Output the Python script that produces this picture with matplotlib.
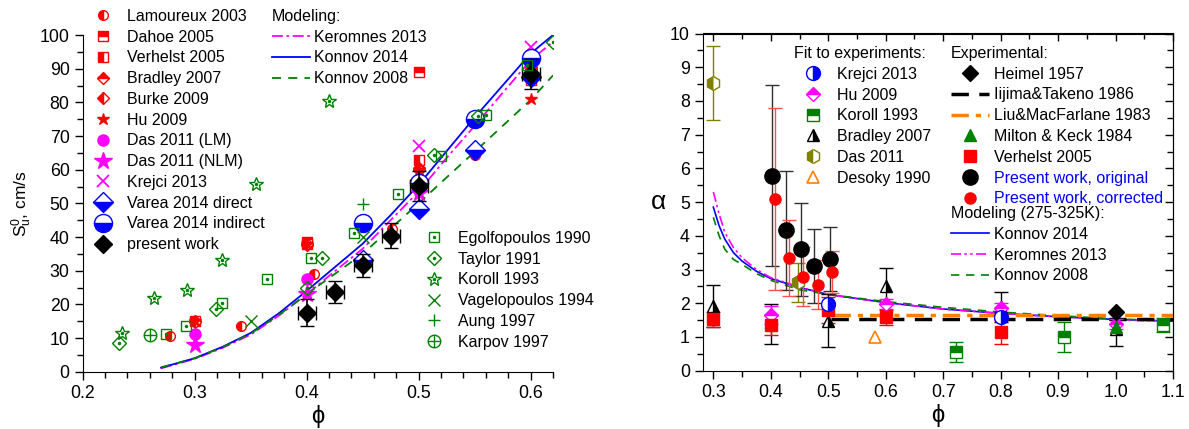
import matplotlib
matplotlib.use("Agg")
import matplotlib.pyplot as plt
from matplotlib.ticker import MultipleLocator

plt.rcParams['font.family'] = ['Liberation Sans', 'DejaVu Sans']
plt.rcParams['mathtext.default'] = 'regular'
FS = 11.5
TFS = 12.8

# ---------------- left panel data: burning velocity ----------------
lam_x = [0.278, 0.341, 0.407, 0.476, 0.55]
lam_y = [10.7, 13.7, 29.0, 42.3, 64.5]
dahoe_x = [0.4, 0.5, 0.6]
dahoe_y = [38.5, 89.0, 86.5]
verh_x = [0.3, 0.4, 0.5, 0.6]
verh_y = [15.2, 38.0, 62.9, 88.0]
brad_x = [0.3, 0.4, 0.5, 0.6]
brad_y = [15.0, 37.5, 60.5, 90.5]
burke_x = [0.3, 0.4, 0.5, 0.6]
burke_y = [14.8, 38.0, 60.0, 90.0]
hu_x = [0.3, 0.4, 0.5, 0.6]
hu_y = [15.0, 38.0, 60.0, 81.0]
dasLM_x = [0.3, 0.4]
dasLM_y = [11.3, 27.5]
dasNLM_x = [0.3, 0.4, 0.5]
dasNLM_y = [7.9, 23.0, 53.0]
krej_x = [0.5, 0.6]
krej_y = [67.1, 96.5]
vdir_x = [0.45, 0.5, 0.55, 0.6]
vdir_y = [33.2, 48.2, 65.8, 87.6]
vind_x = [0.45, 0.5, 0.55, 0.6]
vind_y = [44.1, 56.1, 75.2, 93.1]
pw_x = [0.4, 0.425, 0.45, 0.475, 0.5, 0.6]
pw_y = [17.5, 23.6, 31.6, 40.4, 55.2, 88.5]
pw_yerr = [4.0, 3.3, 3.4, 3.7, 4.5, 4.5]
pw_xerr = [0.008, 0.008, 0.008, 0.008, 0.008, 0.008]

egol_x = [0.274, 0.292, 0.324, 0.365, 0.404, 0.442, 0.482, 0.52, 0.56, 0.597]
egol_y = [11.2, 13.7, 20.5, 27.4, 33.9, 41.3, 52.7, 64.2, 76.2, 91.1]
tay_x = [0.232, 0.319, 0.40, 0.414, 0.514, 0.553, 0.62]
tay_y = [8.4, 18.7, 25.0, 33.9, 64.4, 76.0, 98.0]
kor_x = [0.235, 0.264, 0.293, 0.324, 0.355, 0.42]
kor_y = [11.4, 22.0, 24.4, 33.1, 55.7, 80.4]
vag_x = [0.35, 0.45]
vag_y = [15.1, 39.9]
aung_x = [0.45]
aung_y = [49.8]
karp_x = [0.26]
karp_y = [10.9]

mod_x = [0.27, 0.285, 0.3, 0.325, 0.35, 0.375, 0.4, 0.425, 0.45, 0.475, 0.5, 0.525, 0.55, 0.575, 0.6, 0.62]
kon14_y = [1.2, 2.6, 4.0, 7.4, 11.5, 17.3, 24.0, 31.0, 38.0, 46.5, 55.5, 65.5, 75.5, 85.0, 94.5, 100.0]
ker13_y = [1.0, 2.4, 3.8, 7.1, 11.0, 16.6, 23.0, 29.8, 36.5, 45.0, 53.5, 63.5, 73.0, 82.8, 92.5, 98.0]
kon08_y = [1.3, 2.6, 4.0, 7.3, 11.3, 16.8, 23.0, 29.0, 35.0, 42.5, 50.0, 57.7, 65.3, 73.0, 80.7, 88.0]

# ---------------- right panel data: alpha ----------------
fk_x = [0.5, 0.8]
fk_y = [1.97, 1.58]
fhu_x = [0.4, 0.6, 0.8, 1.0]
fhu_y = [1.65, 1.97, 1.87, 1.38]
fhu_err = [0.27, 0.15, 0.15, 0.15]
fkor_x = [0.723, 0.91, 1.082]
fkor_y = [0.56, 1.0, 1.35]
fkor_err = [0.3, 0.45, 0.2]
fbr_x = [0.3, 0.4, 0.5, 0.6, 0.8, 1.0]
fbr_y = [1.92, 1.38, 1.48, 2.51, 1.89, 1.25]
fbr_err = [0.62, 0.6, 0.78, 0.53, 0.45, 0.52]
fdas_x = [0.3, 0.447]
fdas_y = [8.52, 2.62]
fdas_err = [1.1, 0.58]
fdes_x = [0.581]
fdes_y = [1.0]

heim_x = [1.0]
heim_y = [1.75]
iij_x = [0.505, 1.1]
iij_y = [1.53, 1.53]
liu_x = [0.508, 1.1]
liu_y = [1.64, 1.64]
milt_x = [1.0]
milt_y = [1.3]
ver_x = [0.3, 0.4, 0.5, 0.6, 0.8]
ver_y = [1.52, 1.36, 1.80, 1.58, 1.14]
ver_err = [0.22, 0.3, 0.4, 0.23, 0.36]
orig_x = [0.402, 0.426, 0.452, 0.475, 0.503]
orig_y = [5.78, 4.16, 3.60, 3.10, 3.30]
orig_err = [2.68, 1.76, 1.38, 1.10, 0.95]
corr_x = [0.407, 0.431, 0.456, 0.482, 0.507]
corr_y = [5.09, 3.35, 2.79, 2.55, 2.93]
corr_err = [2.7, 1.12, 0.87, 0.72, 0.62]

amod_x = [0.3, 0.31, 0.32, 0.335, 0.35, 0.375, 0.4, 0.45, 0.5, 0.6, 0.7, 0.8, 0.9, 1.0, 1.1]
akon14_y = [4.85, 4.3, 3.9, 3.5, 3.25, 2.95, 2.73, 2.47, 2.26, 2.02, 1.83, 1.70, 1.60, 1.52, 1.47]
aker13_y = [5.3, 4.65, 4.1, 3.65, 3.35, 3.0, 2.76, 2.48, 2.26, 2.02, 1.83, 1.70, 1.60, 1.51, 1.46]
akon08_y = [4.55, 4.0, 3.6, 3.3, 3.15, 2.88, 2.68, 2.40, 2.26, 2.05, 1.88, 1.74, 1.63, 1.54, 1.47]

W, H = 1189, 429
fig = plt.figure(figsize=(W / 100, H / 100), dpi=100)


def fpt(x, y):
    return (x / W, 1 - y / H)


ax1 = fig.add_axes([82.7 / W, 1 - 371.7 / H, (553 - 82.7) / W, (371.7 - 35) / H])
ax2 = fig.add_axes([703 / W, 1 - 370.7 / H, (1173 - 703) / W, (370.7 - 33.5) / H])

# ---------------- left panel ----------------
R, M, B, G = '#ff0000', '#ff00ff', '#0000ff', '#008000'

ax1.plot(mod_x, ker13_y, color=M, lw=1.3, ls=(0, (6, 2, 1.5, 2)), label='Keromnes 2013')
ax1.plot(mod_x, kon14_y, color=B, lw=1.3, label='Konnov 2014')
ax1.plot(mod_x, kon08_y, color=G, lw=1.3, ls=(0, (5, 4)), label='Konnov 2008')

hd = dict(ls='none', markeredgewidth=1.0)
h_lam, = ax1.plot(lam_x, lam_y, 'o', ms=7, color=R, fillstyle='left', markerfacecoloralt='white', **hd)
h_dah, = ax1.plot(dahoe_x, dahoe_y, 's', ms=7, color=R, fillstyle='top', markerfacecoloralt='white', **hd)
h_ver, = ax1.plot(verh_x, verh_y, 's', ms=7, color=R, fillstyle='left', markerfacecoloralt='white', **hd)
h_bra, = ax1.plot(brad_x, brad_y, 'D', ms=6.5, color=R, fillstyle='top', markerfacecoloralt='white', **hd)
h_bur, = ax1.plot(burke_x, burke_y, 'D', ms=6.5, color=R, fillstyle='left', markerfacecoloralt='white', **hd)
h_hu, = ax1.plot(hu_x, hu_y, '*', ms=9, color=R, **hd)
h_dlm, = ax1.plot(dasLM_x, dasLM_y, 'o', ms=8, color=M, **hd)
h_dnl, = ax1.plot(dasNLM_x, dasNLM_y, '*', ms=13, color=M, **hd)
h_kre, = ax1.plot(krej_x, krej_y, 'x', ms=9, color=M, markeredgewidth=1.3, ls='none')
h_vdi, = ax1.plot(vdir_x, vdir_y, 'D', ms=10, color=B, fillstyle='bottom', markerfacecoloralt='white', **hd)
h_vin, = ax1.plot(vind_x, vind_y, 'o', ms=13, color=B, fillstyle='bottom', markerfacecoloralt='white', **hd)
ax1.errorbar(pw_x, pw_y, yerr=pw_yerr, xerr=pw_xerr, fmt='none', ecolor='black', elinewidth=1.2, capsize=5)
h_pw, = ax1.plot(pw_x, pw_y, 'D', ms=9, color='black', **hd)

go = dict(ls='none', color=G, mfc='none', markeredgewidth=1.0)
gd = dict(ls='none', color=G, ms=1.5)
h_eg1, = ax1.plot(egol_x, egol_y, 's', ms=7, **go)
h_eg2, = ax1.plot(egol_x, egol_y, 'o', **gd)
h_ta1, = ax1.plot(tay_x, tay_y, 'D', ms=7, **go)
h_ta2, = ax1.plot(tay_x, tay_y, 'o', **gd)
h_ko1, = ax1.plot(kor_x, kor_y, '*', ms=10, **go)
h_ko2, = ax1.plot(kor_x, kor_y, 'o', **gd)
h_vag, = ax1.plot(vag_x, vag_y, 'x', ms=9, color=G, ls='none', markeredgewidth=1.0)
h_aun, = ax1.plot(aung_x, aung_y, '+', ms=8, color=G, ls='none', markeredgewidth=1.0)
h_ka1, = ax1.plot(karp_x, karp_y, 'o', ms=9, **go)
h_ka2, = ax1.plot(karp_x, karp_y, '+', ms=9, color=G, ls='none', markeredgewidth=1.0)

ax1.set_xlim(0.2, 0.62)
ax1.set_ylim(0, 100)
ax1.spines['top'].set_visible(False)
ax1.spines['right'].set_visible(False)
ax1.xaxis.set_major_locator(MultipleLocator(0.1))
ax1.xaxis.set_minor_locator(MultipleLocator(0.02))
ax1.yaxis.set_major_locator(MultipleLocator(10))
ax1.yaxis.set_minor_locator(MultipleLocator(5))
ax1.tick_params(which='both', direction='out', labelsize=TFS, width=1.0)
ax1.tick_params(which='major', length=6)
ax1.tick_params(which='minor', length=4)
ax1.set_xlabel('\u03d5', fontsize=17, labelpad=2)
ax1.set_ylabel('$S_u^0$, cm/s', fontsize=FS + 1, labelpad=4)

legkw = dict(frameon=False, fontsize=FS, borderpad=0, borderaxespad=0, labelspacing=0.36,
             bbox_transform=fig.transFigure, loc='upper left', numpoints=1)

lg1 = ax1.legend([h_lam, h_dah, h_ver, h_bra, h_bur, h_hu, h_dlm, h_dnl, h_kre, h_vdi, h_vin, h_pw],
                 ['Lamoureux 2003', 'Dahoe 2005', 'Verhelst 2005', 'Bradley 2007', 'Burke 2009',
                  'Hu 2009', 'Das 2011 (LM)', 'Das 2011 (NLM)', 'Krejci 2013', 'Varea 2014 direct',
                  'Varea 2014 indirect', 'present work'],
                 bbox_to_anchor=fpt(91, 9), handlelength=1.5, handletextpad=0.75, **legkw)
ax1.add_artist(lg1)
hm = ax1.get_lines()[:3]
lg2 = ax1.legend(hm, ['Keromnes 2013', 'Konnov 2014', 'Konnov 2008'], title='Modeling:',
                 title_fontsize=FS, alignment='left', bbox_to_anchor=fpt(272, 9),
                 handlelength=2.4, handletextpad=0.25, **legkw)
ax1.add_artist(lg2)
ax1.legend([(h_eg1, h_eg2), (h_ta1, h_ta2), (h_ko1, h_ko2), h_vag, h_aun, (h_ka1, h_ka2)],
           ['Egolfopoulos 1990', 'Taylor 1991', 'Koroll 1993', 'Vagelopoulos 1994', 'Aung 1997',
            'Karpov 1997'],
           bbox_to_anchor=fpt(422, 231), handlelength=1.5, handletextpad=0.75, **legkw)

# ---------------- right panel ----------------
O, OL = '#ff8000', '#808000'
ax2.plot(amod_x, akon14_y, color=B, lw=1.2)
ax2.plot(amod_x, aker13_y, color=M, lw=1.2, ls=(0, (6, 2, 1.5, 2, 1.5, 2)))
ax2.plot(amod_x, akon08_y, color=G, lw=1.2, ls=(0, (5, 4)))
h_iij, = ax2.plot(iij_x, iij_y, color='black', lw=2.5, ls=(0, (5, 3)))
h_liu, = ax2.plot(liu_x, liu_y, color=O, lw=2.5, ls=(0, (5, 2, 1.5, 2)))

eb = dict(fmt='none', elinewidth=1.0, capsize=5)
ax2.errorbar(fdas_x, fdas_y, yerr=fdas_err, ecolor=OL, **eb)
ax2.errorbar(fbr_x, fbr_y, yerr=fbr_err, ecolor='black', **eb)
ax2.errorbar(fhu_x, fhu_y, yerr=fhu_err, ecolor=M, **eb)
ax2.errorbar(fkor_x, fkor_y, yerr=fkor_err, ecolor=G, **eb)
ax2.errorbar(ver_x, ver_y, yerr=ver_err, ecolor=R, **eb)
ax2.errorbar(orig_x, orig_y, yerr=orig_err, ecolor='#303030', **eb)
ax2.errorbar(corr_x, corr_y, yerr=corr_err, ecolor='#ff5050', **eb)

h_fdas, = ax2.plot(fdas_x, fdas_y, 'h', ms=10, color=OL, fillstyle='left', markerfacecoloralt='white', **hd)
h_fbr, = ax2.plot(fbr_x, fbr_y, '^', ms=9, color='black', fillstyle='right', markerfacecoloralt='white', **hd)
h_fhu, = ax2.plot(fhu_x, fhu_y, 'D', ms=7, color=M, fillstyle='top', markerfacecoloralt='white', **hd)
h_fkor, = ax2.plot(fkor_x, fkor_y, 's', ms=8, color=G, fillstyle='top', markerfacecoloralt='white', **hd)
h_fdes, = ax2.plot(fdes_x, fdes_y, '^', ms=9, color=O, mfc='none', ls='none', markeredgewidth=1.2)
h_milt, = ax2.plot(milt_x, milt_y, '^', ms=9, color=G, **hd)
h_heim, = ax2.plot(heim_x, heim_y, 'D', ms=8, color='black', **hd)
h_ver2, = ax2.plot(ver_x, ver_y, 's', ms=9, color=R, **hd)
h_fk, = ax2.plot(fk_x, fk_y, 'o', ms=10, color=B, fillstyle='right', markerfacecoloralt='white', **hd)
h_orig, = ax2.plot(orig_x, orig_y, 'o', ms=11, color='black', **hd)
h_corr, = ax2.plot(corr_x, corr_y, 'o', ms=8, color=R, **hd)

ax2.set_xlim(0.282, 1.1)
ax2.set_ylim(0, 10)
ax2.xaxis.set_major_locator(MultipleLocator(0.1))
ax2.xaxis.set_minor_locator(MultipleLocator(0.05))
ax2.yaxis.set_major_locator(MultipleLocator(1))
ax2.yaxis.set_minor_locator(MultipleLocator(0.5))
ax2.xaxis.set_major_formatter(lambda v, p: f'{v:.1f}')
ax2.tick_params(which='both', direction='out', labelsize=TFS, width=1.0)
ax2.tick_params(which='major', length=6)
ax2.tick_params(which='minor', length=4)
sx = ax2.secondary_xaxis('top')
sx.xaxis.set_major_locator(MultipleLocator(0.1))
sx.xaxis.set_minor_locator(MultipleLocator(0.05))
sx.tick_params(which='both', direction='in', labeltop=False, width=1.0)
sx.tick_params(which='major', length=6)
sx.tick_params(which='minor', length=4)
sy = ax2.secondary_yaxis('right')
sy.yaxis.set_major_locator(MultipleLocator(1))
sy.yaxis.set_minor_locator(MultipleLocator(0.5))
sy.tick_params(which='both', direction='in', labelright=False, width=1.0)
sy.tick_params(which='major', length=6)
sy.tick_params(which='minor', length=4)
ax2.set_xlabel('\u03d5', fontsize=17, labelpad=2)
ax2.set_ylabel('\u03b1', fontsize=19, rotation=0, labelpad=8, va='center')

lg3 = ax2.legend([h_fk, h_fhu, h_fkor, h_fbr, h_fdas, h_fdes],
                 ['Krejci 2013', 'Hu 2009', 'Koroll 1993', 'Bradley 2007', 'Das 2011', 'Desoky 1990'],
                 title='Fit to experiments:', title_fontsize=FS, alignment='left',
                 bbox_to_anchor=fpt(794, 46), handlelength=2.4, handletextpad=0.3, **legkw)
ax2.add_artist(lg3)
lg4 = ax2.legend([h_heim, h_iij, h_liu, h_milt, h_ver2, h_orig, h_corr],
                 ['Heimel 1957', 'Iijima&Takeno 1986', 'Liu&MacFarlane 1983', 'Milton & Keck 1984',
                  'Verhelst 2005', 'Present work, original', 'Present work, corrected'],
                 title='Experimental:', title_fontsize=FS, alignment='left',
                 bbox_to_anchor=fpt(951, 46), handlelength=2.4, handletextpad=0.3, **legkw)
for t in lg4.get_texts()[5:]:
    t.set_color('blue')
ax2.add_artist(lg4)
am = ax2.get_lines()[:3]
ax2.legend(am, ['Konnov 2014', 'Keromnes 2013', 'Konnov 2008'], title='Modeling (275-325K):',
           title_fontsize=FS, alignment='left', bbox_to_anchor=fpt(951, 206),
           handlelength=2.4, handletextpad=0.3, **legkw)

fig.savefig('out.png', dpi=100)
